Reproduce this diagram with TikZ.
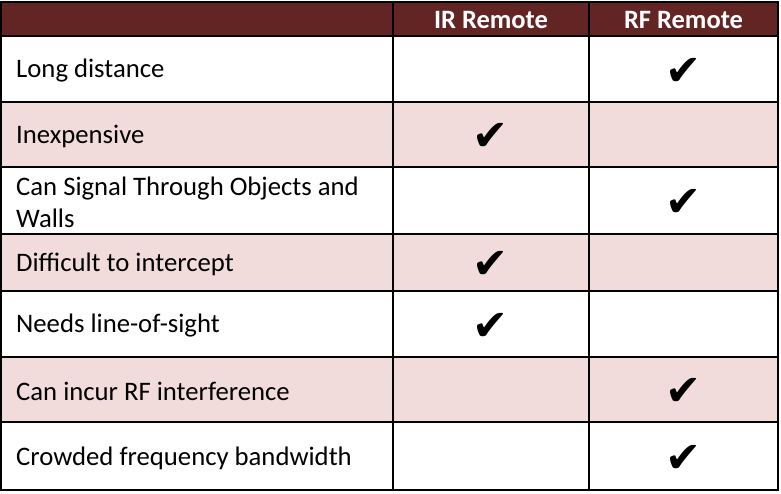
\documentclass[tikz,border=0pt]{standalone}
\usepackage{fontspec}
\setmainfont{Carlito}
\newfontfamily\ticksym{DejaVu Sans}
\definecolor{headred}{HTML}{632523}
\definecolor{rowpink}{HTML}{F2DCDB}

\begin{document}
\begin{tikzpicture}[
    x=1pt, y=-1pt,
    rule/.style={line width=1.4pt, line cap=rect},
    rowtext/.style={anchor=west, align=left, inner sep=0pt, font=\fontsize{26.7}{32}\selectfont},
    headtext/.style={text=white, inner sep=0pt, font=\fontsize{26.5}{28}\selectfont\bfseries},
    tick/.style={inner sep=0pt, font=\ticksym\fontsize{43}{43}\selectfont}
]
    \useasboundingbox (0,0) rectangle (781,493);

    % header band and shaded rows
    \fill[headred] (1,2) rectangle (778,36);
    \foreach \ytop/\ybot in {102/167, 234/291, 357/422}
        \fill[rowpink] (1,\ytop) rectangle (778,\ybot);

    % grid
    \foreach \y in {36,102,167,234,291,357,422}
        \draw[rule] (1,\y) -- (778,\y);
    \foreach \x in {393,589}
        \draw[rule] (\x,2) -- (\x,490);
    \draw[rule] (1,2) rectangle (778,490);

    % column heads
    \node[headtext] (ir) at (491,20) {IR Remote};
    \node[headtext] (rf) at (683.5,20) {RF Remote};

    % row labels
    \node[rowtext] (distance) at (16,71) {Long distance};
    \node[rowtext] (cheap) at (16,136) {Inexpensive};
    \node[rowtext] (walls) at (16,202) {Can Signal Through Objects and\\Walls};
    \node[rowtext] (intercept) at (16,264) {Difficult to intercept};
    \node[rowtext] (sight) at (16,326) {Needs line-of-sight};
    \node[rowtext] (interference) at (16,391) {Can incur RF interference};
    \node[rowtext] (crowded) at (16,458) {Crowded frequency bandwidth};

    % ticks
    \node[tick] (rf1) at (683.5,72) {✔};
    \node[tick] (ir2) at (491,137) {✔};
    \node[tick] (rf3) at (683.5,203) {✔};
    \node[tick] (ir4) at (491,265) {✔};
    \node[tick] (ir5) at (491,327) {✔};
    \node[tick] (rf6) at (683.5,392) {✔};
    \node[tick] (rf7) at (683.5,459) {✔};
\end{tikzpicture}
\end{document}
